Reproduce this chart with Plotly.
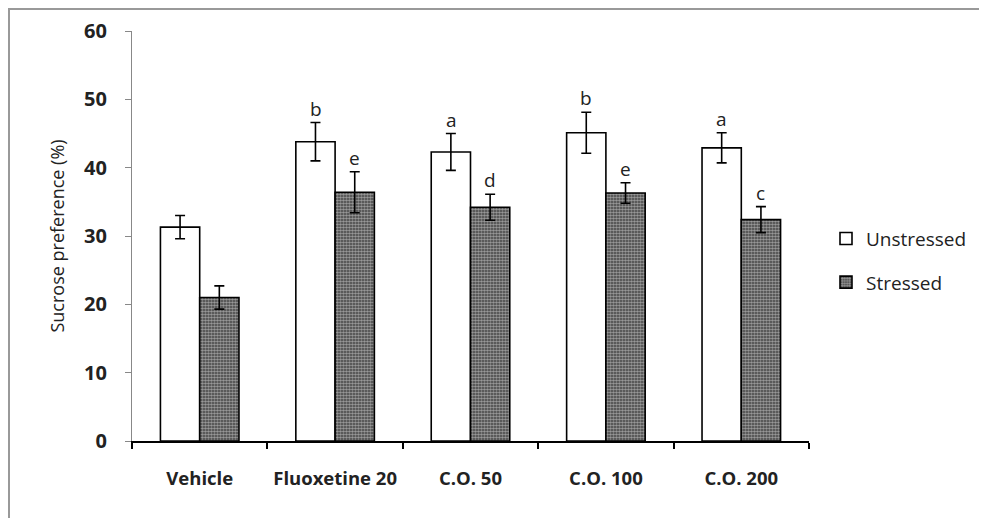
import plotly.graph_objects as go

categories = ["Vehicle", "Fluoxetine 20", "C.O. 50", "C.O. 100", "C.O. 200"]
unstressed = [31.3, 43.8, 42.3, 45.1, 42.9]
unstressed_err = [1.7, 2.8, 2.7, 3.0, 2.2]
stressed = [21.0, 36.4, 34.2, 36.3, 32.4]
stressed_err = [1.7, 3.0, 1.9, 1.5, 1.9]
unstressed_letters = ["", "b", "a", "b", "a"]
stressed_letters = ["", "e", "d", "e", "c"]
y_ticks = [0, 10, 20, 30, 40, 50, 60]

FONT = "'Open Sans', Lato, sans-serif"
W, H = 979, 510
L, R, T, B = 124, 178, 23, 77
PW, PH = W - L - R, H - T - B

fig = go.Figure()
fig.add_trace(go.Bar(
    name="Unstressed", x=categories, y=unstressed, legendgroup="u",
    marker=dict(color="white", line=dict(color="black", width=1.6)),
    error_y=dict(type="data", array=unstressed_err, color="black", thickness=1.6, width=5),
))
fig.add_trace(go.Bar(
    name="Stressed", x=categories, y=stressed, legendgroup="s",
    marker=dict(color="#3c3c3c", line=dict(color="black", width=1.6),
                pattern=dict(shape=".", fgcolor="#f4f4f4", bgcolor="#3c3c3c", size=3, solidity=0.6)),
    error_y=dict(type="data", array=stressed_err, color="black", thickness=1.6, width=5),
))

annotations = []
for i, c in enumerate(categories):
    if unstressed_letters[i]:
        annotations.append(dict(x=c, y=unstressed[i] + unstressed_err[i], text=unstressed_letters[i],
                                xshift=-19.5, yshift=-1, yanchor="bottom", showarrow=False,
                                font=dict(family=FONT, size=19, color="#222")))
    if stressed_letters[i]:
        annotations.append(dict(x=c, y=stressed[i] + stressed_err[i], text=stressed_letters[i],
                                xshift=19.5, yshift=-1, yanchor="bottom", showarrow=False,
                                font=dict(family=FONT, size=19, color="#222")))

fig.update_layout(
    width=W, height=H,
    margin=dict(l=L, r=R, t=T, b=B, autoexpand=False),
    paper_bgcolor="white", plot_bgcolor="white",
    barmode="group", bargap=0.42, bargroupgap=0,
    font=dict(family=FONT, color="#222"),
    showlegend=True,
    legend=dict(x=(818 - L) / PW, xanchor="left", y=0.44, yanchor="middle",
                font=dict(family=FONT, size=19, color="#222"),
                itemwidth=30, tracegroupgap=16, bgcolor="rgba(0,0,0,0)"),
    xaxis=dict(
        showline=True, linecolor="black", linewidth=1.6,
        ticks="outside", tickson="boundaries", ticklen=6, tickcolor="black", tickwidth=1.6,
        tickfont=dict(family=FONT, size=18.5, color="#222", weight="bold"),
        tickangle=0, ticklabelstandoff=20,
        showgrid=False, zeroline=False,
    ),
    yaxis=dict(
        range=[0, 60], tickvals=y_ticks, showline=True, linecolor="#888", linewidth=1.2,
        ticks="outside", ticklen=6, tickcolor="#888",
        tickfont=dict(family=FONT, size=20, color="#222", weight="bold"),
        ticklabelstandoff=14,
        showgrid=False, zeroline=False,
        title=dict(text="Sucrose preference (%)", font=dict(family=FONT, size=18, color="#222"), standoff=14),
    ),
    annotations=annotations,
    shapes=[dict(type="rect", xref="paper", yref="paper",
                 x0=(1 - L) / PW, x1=(W + 10 - L) / PW, y0=(H - B - H - 10) / PH, y1=(H - B - 1) / PH,
                 line=dict(color="#999", width=2), fillcolor="rgba(0,0,0,0)", layer="below")],
)

fig.write_html("out.html")
